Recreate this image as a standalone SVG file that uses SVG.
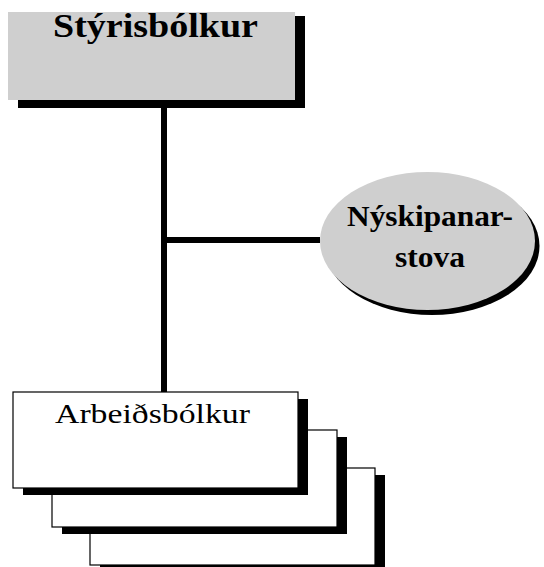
<svg xmlns="http://www.w3.org/2000/svg" width="544" height="567" viewBox="0 0 544 567">
<defs>
<style>
.shadow{fill:#000}
.gray{fill:#cfcfcf}
.card{fill:#fff;stroke:#000;stroke-width:1.2}
.conn{stroke:#000;stroke-width:6;fill:none}
.title{font-weight:bold;fill:#000}
.label{fill:#000}
</style>
</defs>
<rect width="544" height="567" fill="#fff"/>
<g id="connectors">
<line class="conn" x1="164" y1="100" x2="164" y2="394"/>
<line class="conn" x1="164" y1="240" x2="320" y2="240"/>
</g>
<g id="styrisbolkur">
<rect class="shadow" x="18" y="16" width="287" height="92"/>
<rect class="gray" x="8" y="12" width="287" height="88"/>
<text class="title" font-family="'Liberation Serif', serif" x="53" y="37" font-size="33" textLength="205" lengthAdjust="spacingAndGlyphs">Stýrisbólkur</text>
</g>
<g id="nyskipanarstova">
<ellipse class="shadow" cx="432" cy="246" rx="107.5" ry="69"/>
<ellipse class="gray" cx="427.5" cy="241" rx="107.5" ry="69"/>
<text class="title" font-family="'Liberation Serif', serif" x="347" y="226" font-size="29" textLength="166" lengthAdjust="spacingAndGlyphs">Nýskipanar-</text>
<text class="title" font-family="'Liberation Serif', serif" x="395" y="267" font-size="29" textLength="70" lengthAdjust="spacingAndGlyphs">stova</text>
</g>
<g id="arbeidsbolkur">
<rect class="shadow" x="100" y="475" width="285" height="97"/>
<rect class="card" x="90" y="468" width="285" height="97"/>
<rect class="shadow" x="62" y="437" width="285" height="97"/>
<rect class="card" x="52" y="430" width="285" height="97"/>
<rect class="shadow" x="23" y="399" width="285" height="96"/>
<rect class="card" x="13" y="392" width="285" height="96"/>
<text class="label" font-family="'Liberation Serif', serif" x="55" y="423" font-size="27" textLength="195" lengthAdjust="spacingAndGlyphs">Arbeiðsbólkur</text>
</g>
</svg>
